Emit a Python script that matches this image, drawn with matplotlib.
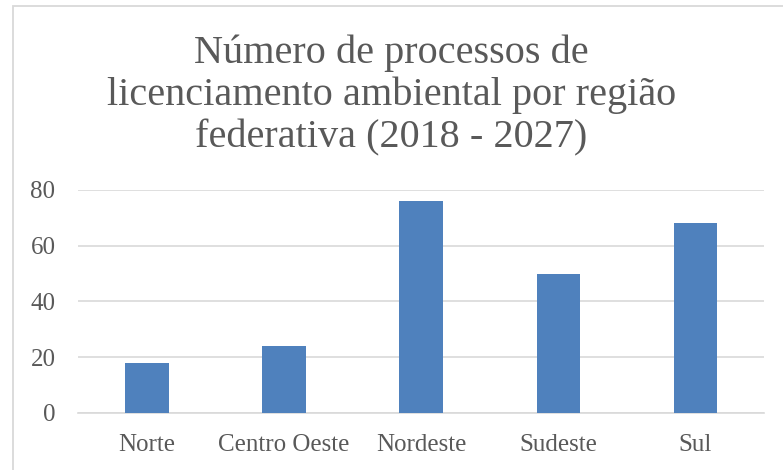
import matplotlib
matplotlib.use("Agg")
import matplotlib.pyplot as plt
from matplotlib.patches import Rectangle

categories = ["Norte", "Centro Oeste", "Nordeste", "Sudeste", "Sul"]
values = [18, 24, 76, 50, 68]
yticks = [0, 20, 40, 60, 80]
title = "Número de processos de\nlicenciamento ambiental por região\nfederativa (2018 - 2027)"

plt.rcParams["font.family"] = ["Liberation Serif", "DejaVu Serif"]

W, H = 783, 470
fig = plt.figure(figsize=(W / 100, H / 100), dpi=100)
fig.patch.set_facecolor("white")

# outer chart border (partly clipped at right/bottom)
fig.patches.append(Rectangle((12.5 / W, -0.05), 1.1, 1 - 5.5 / H + 0.05,
                             transform=fig.transFigure, fill=False,
                             edgecolor="#d9d9d9", linewidth=1.3))

left, right = 78.3 / W, 764 / W
bottom, top = 1 - 412.7 / H, 1 - 190 / H
ax = fig.add_axes([left, bottom, right - left, top - bottom])
x = range(len(categories))
ax.bar(x, values, width=0.316, color="#4f81bd", zorder=3)
ax.set_xlim(-0.5, len(categories) - 0.5)
ax.set_ylim(0, 80)
ax.set_yticks(yticks)
ax.set_xticks(list(x))
ax.set_xticklabels(categories)
ax.grid(axis="y", color="#d9d9d9", linewidth=1.2, zorder=0)
for s in ["top", "right", "left"]:
    ax.spines[s].set_visible(False)
ax.spines["bottom"].set_color("#d9d9d9")
ax.spines["bottom"].set_linewidth(1.2)
ax.tick_params(axis="both", length=0, colors="#595959", labelsize=18)
ax.tick_params(axis="x", pad=15.5)
ax.tick_params(axis="y", pad=16.5)

fig.text(0.5, 1 - 95.5 / H, title, ha="center", va="center", fontsize=29,
         color="#595959", linespacing=1.16)

fig.savefig("out.png", dpi=100)
